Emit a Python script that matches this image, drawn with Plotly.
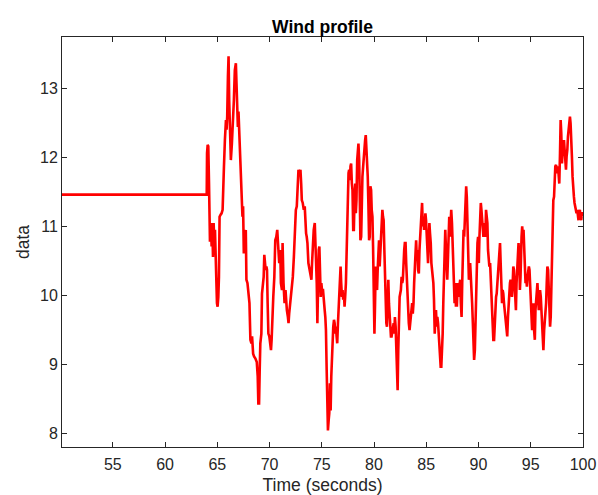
import plotly.graph_objects as go

# Time (seconds)
time_s = [50.14, 63.99, 64.02, 64.08, 64.14, 64.21, 64.24, 64.30, 64.40, 64.46, 64.52, 64.59, 64.65, 64.72, 64.78,
          64.84, 64.91, 64.97, 65.03, 65.10, 65.16, 65.22, 65.32, 65.41, 65.51, 65.57, 65.64, 65.73, 65.83, 65.89,
          65.95, 66.02, 66.08, 66.14, 66.21, 66.30, 66.40, 66.49, 66.59, 66.68, 66.78, 66.84, 66.90, 66.97, 67.03,
          67.09, 67.19, 67.28, 67.35, 67.41, 67.47, 67.54, 67.60, 67.67, 67.73, 67.79, 67.89, 67.98, 68.08, 68.17,
          68.27, 68.33, 68.43, 68.52, 68.65, 68.78, 68.87, 68.93, 69.00, 69.06, 69.12, 69.22, 69.28, 69.38, 69.44,
          69.50, 69.57, 69.63,
          69.70, 69.76, 69.82, 69.89, 69.98, 70.08, 70.14, 70.20, 70.27, 70.36, 70.46, 70.55, 70.65, 70.74, 70.81,
          70.87, 70.93, 71.03, 71.09, 71.19, 71.25, 71.34, 71.44, 71.53, 71.60, 71.66, 71.76, 71.82, 71.88, 71.98,
          72.07, 72.14, 72.23, 72.33, 72.42, 72.52, 72.61, 72.71, 72.77, 72.87, 72.96, 73.03, 73.09, 73.18, 73.28,
          73.37, 73.44, 73.50, 73.56, 73.63, 73.72, 73.82, 73.91, 74.01, 74.07, 74.17, 74.23, 74.33, 74.39, 74.45,
          74.52, 74.58, 74.64, 74.71, 74.77, 74.83, 74.90, 74.96, 75.02, 75.12, 75.18, 75.28, 75.34, 75.40, 75.47,
          75.53, 75.59, 75.66, 75.72, 75.78,
          75.85, 75.91, 75.98, 76.04, 76.10, 76.17, 76.23, 76.29, 76.36, 76.42, 76.48, 76.55, 76.61, 76.67, 76.74,
          76.80, 76.86, 76.93, 76.99, 77.05, 77.12, 77.18, 77.24, 77.31, 77.37, 77.43, 77.50, 77.56, 77.62, 77.69,
          77.75, 77.81, 77.88, 77.94, 78.01, 78.07, 78.13, 78.20, 78.26, 78.32, 78.39, 78.45, 78.51, 78.58, 78.64,
          78.70, 78.77, 78.83, 78.89, 78.96, 79.02, 79.08, 79.15, 79.21, 79.27, 79.34, 79.40, 79.46, 79.53, 79.59,
          79.65, 79.72, 79.78, 79.85, 79.91, 79.97, 80.04, 80.10, 80.16, 80.23, 80.29, 80.35, 80.42, 80.48, 80.54,
          80.61, 80.67, 80.73, 80.80, 80.86, 80.92, 80.99, 81.05, 81.11, 81.18, 81.24, 81.30, 81.37, 81.43, 81.49,
          81.56, 81.62, 81.68, 81.75, 81.81,
          81.88, 81.94, 82.00, 82.07, 82.13, 82.19, 82.26, 82.32, 82.38, 82.45, 82.51, 82.57, 82.64, 82.70, 82.76,
          82.83, 82.89, 82.95, 83.02, 83.08, 83.14, 83.21, 83.27, 83.33, 83.40, 83.46, 83.52, 83.59, 83.65, 83.71,
          83.78, 83.84, 83.90, 83.97, 84.03, 84.10, 84.16, 84.22, 84.29, 84.35, 84.41, 84.48, 84.54, 84.60, 84.67,
          84.73, 84.79, 84.86, 84.92, 84.98, 85.05, 85.11, 85.17, 85.24, 85.30, 85.36, 85.43, 85.49, 85.55, 85.62,
          85.68, 85.74, 85.81, 85.87, 85.93, 86.00, 86.06, 86.13, 86.19, 86.25, 86.32, 86.38, 86.44, 86.51, 86.57,
          86.63, 86.70, 86.76, 86.82, 86.89, 86.95, 87.01, 87.08, 87.14, 87.20, 87.27, 87.33, 87.39, 87.46, 87.52,
          87.58, 87.65, 87.71, 87.77, 87.84, 87.90,
          87.93, 88.00, 88.06, 88.12, 88.19, 88.25, 88.31, 88.38, 88.44, 88.50, 88.57, 88.63, 88.69, 88.76, 88.82,
          88.88, 88.95, 89.01, 89.08, 89.14, 89.20, 89.27, 89.33, 89.39, 89.46, 89.52, 89.58, 89.65, 89.71, 89.77,
          89.84, 89.90, 89.96, 90.03, 90.09, 90.15, 90.22, 90.28, 90.34, 90.41, 90.47, 90.53, 90.60, 90.66, 90.72,
          90.79, 90.85, 90.91, 90.98, 91.04, 91.11, 91.17, 91.23, 91.30, 91.36, 91.42, 91.49, 91.55, 91.61, 91.68,
          91.74, 91.80, 91.87, 91.93, 91.99, 92.06, 92.12, 92.18, 92.25, 92.31, 92.37, 92.44, 92.50, 92.56, 92.63,
          92.69, 92.75, 92.82, 92.88, 92.94, 93.01, 93.07, 93.13, 93.20, 93.26, 93.33, 93.39, 93.45, 93.52, 93.58,
          93.64, 93.71, 93.77, 93.83, 93.90, 93.96, 94.02, 94.09,
          94.12, 94.18, 94.25, 94.31, 94.37, 94.44, 94.50, 94.56, 94.63, 94.69, 94.75, 94.82, 94.88, 94.94, 95.01,
          95.07, 95.13, 95.20, 95.26, 95.32, 95.39, 95.45, 95.51, 95.58, 95.64, 95.70, 95.77, 95.83, 95.89, 95.96,
          96.02, 96.08, 96.15, 96.21, 96.28, 96.34, 96.40, 96.47, 96.53, 96.59, 96.66, 96.72, 96.78, 96.85, 96.91,
          96.97, 97.04, 97.10, 97.16, 97.23, 97.29, 97.35, 97.42, 97.48, 97.54, 97.61, 97.67, 97.73, 97.80, 97.86,
          97.92, 97.99, 98.05, 98.11, 98.18, 98.24, 98.31, 98.37, 98.43, 98.50, 98.56, 98.62, 98.69, 98.75, 98.81,
          98.88, 98.94, 99.00, 99.07, 99.13, 99.19, 99.26, 99.32, 99.38, 99.45, 99.51, 99.57, 99.64, 99.70, 99.76,
          99.83, 99.89, 99.95, 100.0]

# Wind speed data
wind = [11.46, 11.46, 12.06, 12.18, 12.16, 11.62, 11.05, 10.78, 11.00, 10.71, 11.05, 10.56, 11.05, 10.76, 10.95,
        10.42, 9.98, 9.89, 9.84, 9.98, 10.27, 11.14, 11.17, 11.19, 11.24, 11.82, 11.87, 12.25, 12.54, 12.40,
        12.59, 13.17, 13.46, 12.83, 12.20, 11.96, 12.20, 12.44, 12.83, 13.26, 13.36, 13.07, 12.69, 12.44, 12.66,
        12.44, 11.96, 11.53, 11.34, 11.14, 11.29, 10.61, 10.95, 10.85, 10.95, 10.23, 10.18, 10.08, 9.89, 9.36,
        9.31, 9.41, 9.16, 9.12, 9.09, 9.04, 8.83, 8.44, 8.44, 8.92, 9.31, 9.45, 10.03, 10.18, 10.27,
        10.59, 10.47, 10.37,
        10.42, 10.37, 9.89, 9.45, 9.41, 9.31, 9.21, 9.36, 9.79, 9.98, 10.27, 10.80, 10.85, 10.95, 10.76,
        10.56, 10.47, 10.66, 10.18, 10.08, 10.76, 10.18, 9.89, 10.08, 9.89, 9.79, 9.69, 9.60, 9.74, 9.89,
        9.94, 10.08, 10.27, 10.56, 11.05, 11.24, 11.29, 11.62, 11.82, 11.77, 11.82, 11.62, 11.38, 11.34, 11.24,
        11.29, 10.95, 10.90, 10.85, 10.76, 10.47, 10.37, 10.27, 10.23, 10.47, 10.85, 10.95, 11.05, 10.85, 10.47,
        10.18, 9.60, 10.18, 10.66, 10.71, 10.27, 9.98, 10.18, 10.08, 10.08, 9.89, 9.79, 9.69, 9.50, 8.92,
        8.34, 8.05, 8.20, 8.30, 8.73,
        8.34, 8.83, 9.21, 9.50, 9.55, 9.65, 9.60, 9.45, 9.55, 9.41, 9.31, 9.60, 9.84, 10.08, 10.37,
        10.42, 10.18, 9.98, 10.08, 9.94, 10.03, 9.84, 9.98, 10.18, 10.56, 11.14, 11.67, 11.77, 11.82, 11.67,
        11.87, 11.91, 11.62, 11.53, 10.95, 10.95, 11.34, 11.62, 11.19, 11.38, 11.96, 12.16, 12.20, 11.96, 11.24,
        10.80, 10.85, 11.43, 11.72, 11.87, 12.06, 12.16, 12.25, 12.32, 12.16, 12.06, 11.72, 11.34, 10.80, 10.85,
        11.58, 11.53, 11.24, 11.14, 10.71, 10.08, 9.45, 9.89, 10.42, 10.18, 10.08, 10.37, 10.66, 10.80, 10.42,
        10.66, 10.85, 11.19, 11.24, 11.14, 11.09, 10.66, 10.23, 10.08, 9.60, 9.55, 10.18, 10.23, 9.89, 9.69,
        9.55, 9.41, 9.41, 9.50, 9.55,
        9.60, 9.45, 9.69, 9.55, 9.21, 8.92, 8.63, 9.21, 9.69, 9.98, 10.03, 10.08, 10.27, 10.18, 10.23,
        10.56, 10.66, 10.76, 10.76, 10.47, 10.18, 9.89, 9.69, 9.60, 9.50, 9.60, 9.69, 9.79, 9.89, 9.74,
        9.89, 10.18, 10.47, 10.76, 10.80, 10.52, 10.66, 10.37, 10.32, 10.66, 10.85, 10.95, 11.05, 11.34, 11.00,
        11.14, 10.95, 11.19, 11.19, 11.09, 10.85, 10.66, 10.47, 10.80, 11.05, 10.90, 10.76, 10.47, 10.37, 10.37,
        10.18, 9.94, 9.45, 9.69, 9.79, 9.55, 9.69, 9.60, 9.45, 9.31, 9.07, 8.97, 8.97, 9.21, 9.45,
        9.89, 10.47, 10.85, 10.95, 10.66, 10.42, 10.23, 10.56, 10.85, 11.14, 10.85, 11.14, 11.24, 11.05, 10.76,
        10.52, 10.18, 9.89, 10.18, 9.84, 10.18,
        9.84, 10.18, 9.98, 10.08, 10.18, 10.23, 9.89, 9.69, 10.18, 10.66, 10.95, 10.85, 11.14, 11.53, 11.58,
        11.43, 11.05, 10.66, 10.23, 10.27, 10.47, 10.27, 10.18, 9.89, 9.60, 9.31, 9.07, 9.21, 9.60, 10.18,
        10.66, 10.76, 10.85, 10.47, 10.85, 11.14, 11.34, 11.24, 11.05, 10.85, 10.85, 11.05, 10.95, 10.85, 11.24,
        11.09, 11.05, 10.66, 10.47, 10.42, 10.47, 10.27, 10.08, 9.69, 9.41, 9.36, 9.36, 9.60, 9.89, 9.98,
        10.03, 10.18, 10.32, 10.47, 10.71, 10.76, 10.47, 10.18, 9.89, 10.08, 10.03, 9.89, 9.79, 9.74, 9.60,
        9.50, 9.41, 9.69, 9.89, 10.18, 10.18, 10.23, 10.08, 9.98, 10.13, 10.42, 10.37, 10.18, 9.89, 9.79,
        10.18, 10.47, 10.66, 10.76, 10.56, 10.08, 10.27, 10.85,
        10.85, 11.00, 10.85, 10.95, 10.66, 10.42, 10.18, 10.27, 10.13, 10.27, 10.37, 10.42, 10.37, 10.18, 9.89,
        9.55, 9.50, 9.69, 9.89, 9.50, 9.36, 9.79, 9.98, 10.08, 10.18, 9.98, 9.79, 9.98, 10.08, 9.98,
        9.74, 9.69, 9.36, 9.21, 9.50, 9.60, 9.79, 9.89, 10.18, 10.42, 10.37, 10.18, 9.89, 9.55, 9.69,
        10.18, 10.85, 11.24, 11.38, 11.43, 11.77, 11.87, 11.89, 11.82, 11.77, 11.87, 11.72, 11.62, 12.06, 12.54,
        12.35, 11.91, 12.11, 12.20, 12.25, 12.11, 11.91, 11.82, 12.01, 12.11, 12.30, 12.44, 12.54, 12.59, 12.49,
        12.30, 12.01, 11.72, 11.48, 11.43, 11.34, 11.29, 11.24, 11.19, 11.24, 11.14, 11.09, 11.19, 11.24, 11.14,
        11.09, 11.19, 11.19, 11.15]

x_ticks = [55, 60, 65, 70, 75, 80, 85, 90, 95, 100]
y_ticks = [8, 9, 10, 11, 12, 13]

FONT = "Liberation Sans, Arial"

fig = go.Figure()
fig.add_trace(go.Scatter(x=time_s, y=wind, mode="lines",
                         line=dict(color="#ff0000", width=2.6), showlegend=False))

axis_common = dict(showline=True, linecolor="#262626", linewidth=1, mirror="ticks",
                   ticks="inside", ticklen=5, tickcolor="#262626", showgrid=False, zeroline=False,
                   automargin=False, ticklabeloverflow="allow",
                   tickfont=dict(family=FONT, size=16, color="#262626"))

fig.update_layout(
    width=598, height=495,
    margin=dict(l=62, r=15, t=37, b=48, autoexpand=False),
    paper_bgcolor="white", plot_bgcolor="white",
    title=dict(text="<b>Wind profile</b>", x=0.5, xref="paper", xanchor="center",
               y=1, yref="paper", yanchor="bottom", pad=dict(b=4),
               font=dict(family=FONT, size=17.5, color="black")),
    xaxis=dict(range=[50.14, 100], tickvals=x_ticks, ticklabelstandoff=3,
               title=dict(text="Time (seconds)", standoff=7,
                          font=dict(family=FONT, size=17.5, color="#262626")),
               **axis_common),
    yaxis=dict(range=[7.81, 13.74], tickvals=y_ticks, ticklabelstandoff=0,
               title=dict(text="data", standoff=5,
                          font=dict(family=FONT, size=17.5, color="#262626")),
               **axis_common),
)

fig.write_html("out.html")
